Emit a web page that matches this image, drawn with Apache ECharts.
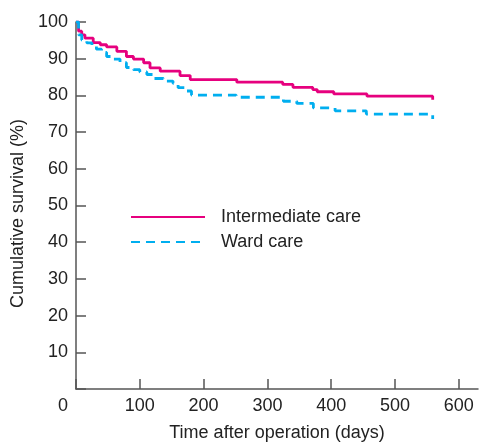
<!DOCTYPE html>
<html>
<head>
<meta charset="utf-8">
<script src="https://cdn.jsdelivr.net/npm/echarts@6/dist/echarts.min.js"></script>
<style>html,body{margin:0;padding:0;background:#fff}#c{width:479px;height:447px}</style>
</head>
<body>
<div id="c"></div>
<script>
var xTicks = [0, 100, 200, 300, 400, 500, 600];
var yTicks = [10, 20, 30, 40, 50, 60, 70, 80, 90, 100];
var seriesNames = ['Intermediate care', 'Ward care'];

var interTime = [0, 4, 9, 14, 27, 38, 48, 64, 79, 90, 106, 116, 132, 163, 179, 252, 324, 340, 371, 378, 404, 456, 559];
var interSurv = [100, 97.5, 96.5, 95.6, 94.4, 93.8, 93.2, 92.0, 90.6, 89.9, 88.9, 87.5, 86.6, 85.4, 84.3, 83.6, 83.0, 82.2, 81.6, 81.0, 80.4, 79.8, 78.8];

var wardTime = [0, 4, 9, 17, 25, 32, 40, 48, 58, 69, 79, 90, 100, 111, 121, 137, 152, 160, 171, 181, 251, 325, 346, 372, 406, 455, 559];
var wardSurv = [100, 96.5, 95.1, 94.3, 93.5, 92.6, 91.7, 90.6, 89.9, 88.9, 87.6, 87.0, 86.4, 85.7, 84.6, 83.9, 83.3, 82.1, 81.2, 80.1, 79.5, 78.4, 77.8, 76.6, 75.8, 74.9, 73.6];

function pairs(t, s) { return t.map(function (v, i) { return [v, s[i]]; }); }

var chart = echarts.init(document.getElementById('c'), null, {renderer: 'canvas'});
var font = 'Liberation Sans, Arial, sans-serif';
var txt = '#222';
chart.setOption({
  animation: false,
  textStyle: {fontFamily: font},
  grid: {left: 76, right: 1, top: 22, bottom: 54},
  legend: {
    orient: 'vertical', left: 125, top: 203, itemWidth: 74, itemHeight: 14, itemGap: 7,
    data: seriesNames,
    itemStyle: {opacity: 0},
    lineStyle: {width: 2},
    textStyle: {fontSize: 18, lineHeight: 18, color: txt, fontFamily: font, padding: [0, 0, 0, 11]}
  },
  xAxis: {
    type: 'value', min: 0, max: 630, interval: 100,
    name: 'Time after operation (days)', nameLocation: 'middle', nameGap: 35,
    nameTextStyle: {fontSize: 18, color: txt, fontFamily: font},
    axisLine: {show: true, lineStyle: {color: '#555', width: 1.5}},
    axisTick: {show: true, inside: true, length: 10, lineStyle: {color: '#555', width: 1.5}},
    splitLine: {show: false},
    axisLabel: {
      fontSize: 18, color: txt, margin: 8, showMaxLabel: false, fontFamily: font,
      formatter: function (v) { return v === 0 ? '{z|0}' : (xTicks.indexOf(v) >= 0 ? String(v) : ''); },
      rich: {z: {fontSize: 18, color: txt, padding: [0, 26, 0, 0], fontFamily: font}}
    }
  },
  yAxis: {
    type: 'value', min: 0, max: 100, interval: 10,
    name: 'Cumulative survival (%)', nameLocation: 'middle', nameGap: 47, nameRotate: 90,
    nameTextStyle: {fontSize: 18, color: txt, fontFamily: font, padding: [0, 16, 0, 0]},
    axisLine: {show: true, lineStyle: {color: '#555', width: 1.5}},
    axisTick: {show: true, inside: true, length: 10, lineStyle: {color: '#555', width: 1.5}},
    splitLine: {show: false},
    axisLabel: {
      fontSize: 18, color: txt, margin: 8, fontFamily: font,
      formatter: function (v) { return yTicks.indexOf(v) >= 0 ? String(v) : ''; }
    }
  },
  series: [
    {
      name: seriesNames[0], type: 'line', step: 'end', symbol: 'none',
      data: pairs(interTime, interSurv),
      lineStyle: {color: '#E6007E', width: 2.8},
      itemStyle: {color: '#E6007E'}
    },
    {
      name: seriesNames[1], type: 'line', step: 'end', symbol: 'none',
      data: pairs(wardTime, wardSurv),
      lineStyle: {color: '#00AEEF', width: 2.8, type: [9, 6]},
      itemStyle: {color: '#00AEEF'}
    }
  ]
});
</script>
</body>
</html>
